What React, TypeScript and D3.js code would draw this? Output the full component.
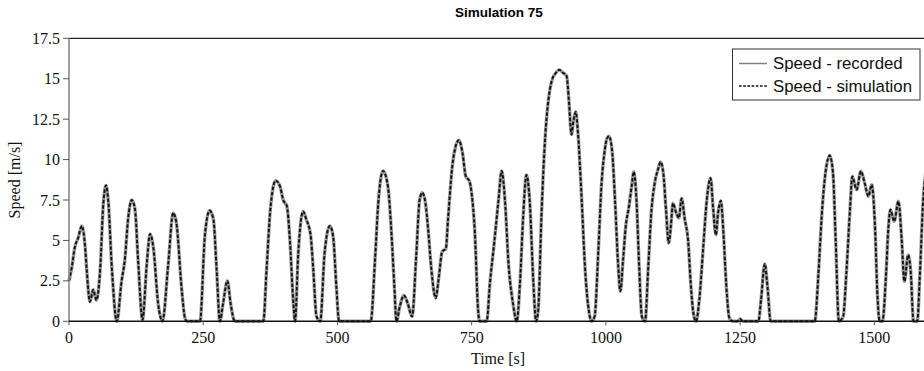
import React from "react";
import * as d3 from "d3";

const timeS = [0,5,11,17,24,30,33,39,45,51,58,64,69,73,80,89,98,104,110,117,123,129,137,145,151,157,166,174,185,194,200,210,216,220,244,253,262,269,275,281,287,295,301,309,362,368,375,385,393,399,406,411,418,421,427,436,442,450,455,461,468,476,486,492,498,503,562,570,576,585,594,601,606,610,616,624,631,639,647,653,658,664,669,675,683,689,695,702,706,714,720,726,733,739,746,750,756,762,765,778,784,792,800,806,812,819,827,834,840,846,852,858,865,870,874,880,887,893,899,907,913,920,927,931,936,939,944,948,955,961,969,973,979,986,992,998,1002,1006,1012,1017,1023,1027,1032,1037,1043,1048,1052,1057,1062,1067,1073,1079,1085,1091,1097,1102,1107,1112,1117,1121,1125,1131,1136,1141,1147,1153,1158,1163,1168,1174,1181,1188,1195,1200,1205,1209,1214,1219,1224,1230,1237,1245,1250,1255,1284,1289,1296,1301,1307,1389,1396,1402,1409,1417,1423,1428,1434,1442,1448,1455,1459,1467,1475,1482,1489,1495,1501,1506,1510,1515,1522,1526,1530,1537,1545,1551,1556,1563,1568,1573,1580,1585,1591,1597];

const speedRecorded = [2.5,3.3,4.6,5.15,5.9,4.6,3.2,1.2,1.95,1.3,3.2,7.3,8.4,7.5,3.2,0,2.5,3.8,6.3,7.5,6.9,3.6,0.1,3.6,5.4,4.6,1.1,0,3.6,6.7,6.1,1.95,0.2,0,0,5.25,6.85,6.3,3.2,0,1.1,2.5,1.1,0,0,3.2,6.9,8.7,8.35,7.5,7.1,5.25,1.1,0,4.2,6.8,6.3,5.35,3.2,0.3,0,4.2,5.9,5.25,2.15,0,0,3.8,7.3,9.3,8.35,5.25,2.15,0,0.9,1.6,1.1,0.3,4.2,7.5,7.95,7.3,5.67,3.2,1.44,2.77,4.3,4.5,6.3,9.6,10.8,11.2,10.4,8.97,8.66,7.9,5.46,0.7,0,0,2.36,4.84,7.5,9.3,7.5,3.4,1.1,0,2.37,6.5,9.05,7.5,2.37,0,0.7,6.5,11.4,13.7,14.85,15.37,15.55,15.37,15.16,13.7,11.55,12.27,12.95,11.65,7.5,3.4,0.5,0,0.3,4.4,8.56,10.6,11.3,11.45,10.4,7.5,3.4,1.85,3.8,5.87,7.1,8.35,9.25,7.5,3.4,0.3,0,3.4,6.9,8.56,9.38,9.85,9.18,6.9,4.84,5.87,7.3,6.7,6.39,7.6,6.3,5.05,2.37,0.5,0,1.33,4.4,7.5,8.85,6.9,5.35,6.7,7.45,5.46,2.37,0.2,0,0,0.15,0,0,1.33,3.55,2.15,0,0,3.0,6.5,9.18,10.25,9.18,5.05,0,0.3,3.0,7.1,8.95,8.14,9.28,8.56,7.73,8.45,6.08,1.5,0,0,3.0,5.67,6.9,6.18,7.42,5.05,2.47,4.1,3.0,0,0,3.0,7.5,9.5];

const speedSimulation = [2.5,3.3,4.6,5.15,5.9,4.6,3.2,1.2,1.95,1.3,3.2,7.3,8.4,7.5,3.2,0,2.5,3.8,6.3,7.5,6.9,3.6,0.1,3.6,5.4,4.6,1.1,0,3.6,6.7,6.1,1.95,0.2,0,0,5.25,6.85,6.3,3.2,0,1.1,2.5,1.1,0,0,3.2,6.9,8.7,8.35,7.5,7.1,5.25,1.1,0,4.2,6.8,6.3,5.35,3.2,0.3,0,4.2,5.9,5.25,2.15,0,0,3.8,7.3,9.3,8.35,5.25,2.15,0,0.9,1.6,1.1,0.3,4.2,7.5,7.95,7.3,5.67,3.2,1.44,2.77,4.3,4.5,6.3,9.6,10.8,11.2,10.4,8.97,8.66,7.9,5.46,0.7,0,0,2.36,4.84,7.5,9.3,7.5,3.4,1.1,0,2.37,6.5,9.05,7.5,2.37,0,0.7,6.5,11.4,13.7,14.85,15.37,15.55,15.37,15.16,13.7,11.55,12.27,12.95,11.65,7.5,3.4,0.5,0,0.3,4.4,8.56,10.6,11.3,11.45,10.4,7.5,3.4,1.85,3.8,5.87,7.1,8.35,9.25,7.5,3.4,0.3,0,3.4,6.9,8.56,9.38,9.85,9.18,6.9,4.84,5.87,7.3,6.7,6.39,7.6,6.3,5.05,2.37,0.5,0,1.33,4.4,7.5,8.85,6.9,5.35,6.7,7.45,5.46,2.37,0.2,0,0,0.15,0,0,1.33,3.55,2.15,0,0,3.0,6.5,9.18,10.25,9.18,5.05,0,0.3,3.0,7.1,8.95,8.14,9.28,8.56,7.73,8.45,6.08,1.5,0,0,3.0,5.67,6.9,6.18,7.42,5.05,2.47,4.1,3.0,0,0,3.0,7.5,9.5];

const yTicks = [0, 2.5, 5, 7.5, 10, 12.5, 15, 17.5];
const xTicks = [0, 250, 500, 750, 1000, 1250, 1500];
const seriesNames = ["Speed - recorded", "Speed - simulation"];
const title = "Simulation 75";
const xLabel = "Time [s]";
const yLabel = "Speed [m/s]";

const W = 924, H = 371;
const left = 69, right = 928, top = 38.3, bottom = 321.3;
const serif = '"Times New Roman", "Liberation Serif", serif';
const sans = 'Arial, "Liberation Sans", sans-serif';

export default function App() {
  const x = d3.scaleLinear().domain([0, 1600]).range([left, right]);
  const y = d3.scaleLinear().domain([0, 17.5]).range([bottom, top]);
  const line = d3.line<number>()
    .x((_, i) => x(timeS[i]))
    .y((d) => y(d))
    .curve(d3.curveMonotoneX);
  const recPath = line(speedRecorded) || "";
  const simPath = line(speedSimulation) || "";
  const fmt = (v: number) => (Number.isInteger(v) ? String(v) : v.toFixed(1));

  return (
    <svg width={W} height={H} style={{ position: "absolute", left: 0, top: 0, background: "#fff" }}>
      <rect x={0} y={0} width={W} height={H} fill="#fff" />
      <text x={499} y={17} textAnchor="middle" fontFamily={sans} fontWeight="bold" fontSize={13.5} fill="#000">{title}</text>
      {/* plot frame */}
      <line x1={left} x2={right} y1={top} y2={top} stroke="#222" strokeWidth={1.3} />
      {/* data */}
      <path d={recPath} fill="none" stroke="#9a9a9a" strokeWidth={3.4} strokeLinejoin="round" />
      <path d={simPath} fill="none" stroke="#111" strokeWidth={1.9} strokeDasharray="3.5 1.8" strokeLinejoin="round" />
      {/* axes */}
      <line x1={left} x2={left} y1={top} y2={bottom} stroke="#8a8a8a" strokeWidth={1.6} />
      <line x1={left} x2={right} y1={bottom} y2={bottom} stroke="#111" strokeWidth={1.4} />
      {yTicks.map((t) => (
        <g key={"y" + t}>
          <line x1={left - 6} x2={left} y1={y(t)} y2={y(t)} stroke="#555" strokeWidth={1} />
          <text x={left - 9} y={y(t)} dy="0.35em" textAnchor="end" fontFamily={serif} fontSize={16} fill="#111">{fmt(t)}</text>
        </g>
      ))}
      {xTicks.map((t) => (
        <g key={"x" + t}>
          <line x1={x(t)} x2={x(t)} y1={bottom} y2={bottom + 4} stroke="#555" strokeWidth={1} />
          <text x={x(t)} y={343} textAnchor="middle" fontFamily={serif} fontSize={16} fill="#111">{t}</text>
        </g>
      ))}
      <text x={498} y={364} textAnchor="middle" fontFamily={serif} fontSize={16} fill="#111">{xLabel}</text>
      <text transform={`translate(20,180) rotate(-90)`} textAnchor="middle" fontFamily={serif} fontSize={16} fill="#111">{yLabel}</text>
      {/* legend */}
      <rect x={732.5} y={49} width={187.5} height={51} fill="#fff" stroke="#333" strokeWidth={1} />
      <line x1={739} x2={767} y1={63.5} y2={63.5} stroke="#808080" strokeWidth={1.5} />
      <line x1={739} x2={767} y1={86} y2={86} stroke="#111" strokeWidth={1.5} strokeDasharray="2.6 1.6" />
      <text x={773} y={63.5} dy="0.35em" fontFamily={sans} fontSize={16.8} fill="#111">{seriesNames[0]}</text>
      <text x={773} y={86} dy="0.35em" fontFamily={sans} fontSize={16.8} fill="#111">{seriesNames[1]}</text>
    </svg>
  );
}
